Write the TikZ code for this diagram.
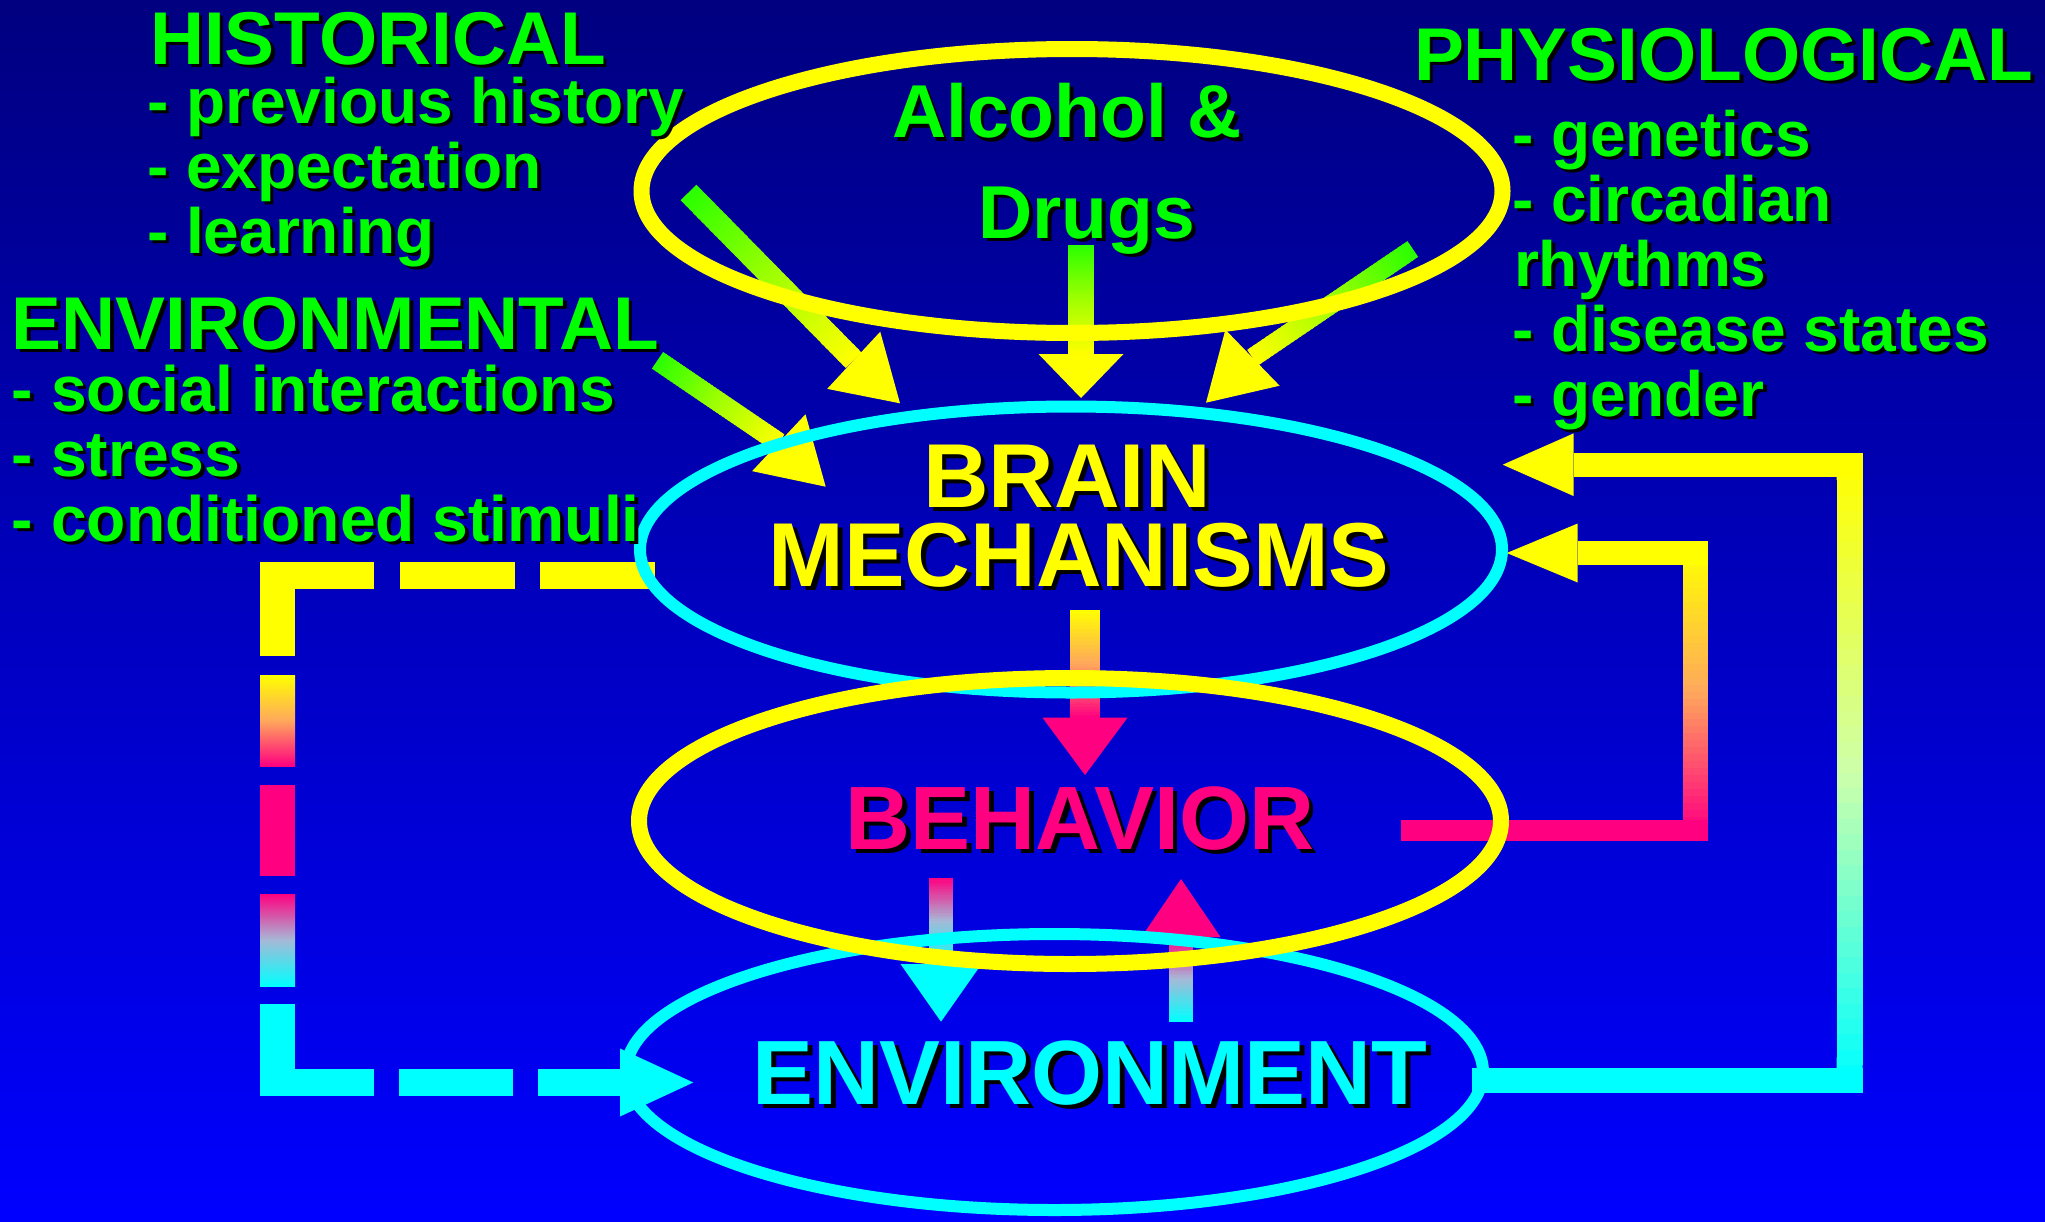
\documentclass[tikz,border=0pt]{standalone}
\usepackage{fontspec}
\setmainfont{Liberation Sans}
\usetikzlibrary{calc,shapes.geometric}
\definecolor{bgtop}{RGB}{0,0,128}
\definecolor{bgbot}{RGB}{0,0,255}
\definecolor{ylw}{RGB}{255,255,0}
\definecolor{cyn}{RGB}{0,255,255}
\definecolor{pnk}{RGB}{255,0,128}
\definecolor{grn}{RGB}{0,255,0}
\definecolor{agrn}{RGB}{40,255,0}
\definecolor{ymid}{RGB}{160,255,0}
\definecolor{orng}{RGB}{255,168,92}
\definecolor{lav}{RGB}{165,185,215}
\definecolor{pale}{RGB}{205,255,170}
\tikzset{every node/.style={inner sep=0pt,outer sep=0pt},
  ring/.style={ellipse,draw=#1,inner sep=0pt}}
% gradient shaft: from, to, width, colour start, colour mid, colour end
\newcommand\gshaft[6]{%
  \foreach \k in {0,...,39}{%
    \pgfmathsetmacro\ta{\k/40}%
    \pgfmathsetmacro\tb{min((\k+1.5)/40,1)}%
    \pgfmathsetmacro\ff{(\k+0.5)/40}%
    \ifdim\ff pt<0.5pt
      \pgfmathsetmacro\pc{100-200*\ff}%
      \draw[line width=#3,color=#4!\pc!#5] ($(#1)!\ta!(#2)$) -- ($(#1)!\tb!(#2)$);%
    \else
      \pgfmathsetmacro\pc{200-200*\ff}%
      \draw[line width=#3,color=#5!\pc!#6] ($(#1)!\ta!(#2)$) -- ($(#1)!\tb!(#2)$);%
    \fi
  }%
}
% arrow head: base centre, tip, half width, colour
\newcommand\dhead[4]{%
  \fill[#4] ($(#1)!#3!90:(#2)$) -- ($(#1)!#3!-90:(#2)$) -- (#2) -- cycle;}
% shadowed text: name, x, y, anchor, size, colour, shadow offset, text
\newcommand\stxt[8]{%
  \node[font=\fontsize{#5}{#5}\selectfont\bfseries,text=#6,anchor=#4] (#1) at (#2,#3)
    {\rlap{\kern#7pt\raisebox{-#7pt}{\color{black}#8}}#8};%
}
\begin{document}
\begin{tikzpicture}[x=1pt,y=-1pt]
\useasboundingbox (0,0) rectangle (2045,1221);
\shade[top color=bgtop,bottom color=bgbot] (0,0) rectangle (2045,1221);

% ---------- arrows into BRAIN MECHANISMS ----------
\coordinate (a1t) at (688.5,192.5);
\coordinate (a1b) at (853.7,360.3);
\coordinate (a1p) at (900,403.3);
\coordinate (a2t) at (1081,245);
\coordinate (a2b) at (1081,354);
\coordinate (a2p) at (1081,398);
\coordinate (a3t) at (1412.8,249);
\coordinate (a3b) at (1252.5,357.7);
\coordinate (a3p) at (1206,402.7);
\coordinate (a4t) at (657.5,360.3);
\coordinate (a4b) at (778.8,442.7);
\coordinate (a4p) at (825.7,486.7);
\gshaft{a1t}{a1b}{22pt}{agrn}{ymid}{ylw}
\dhead{a1b}{a1p}{39pt}{ylw}
\gshaft{a2t}{a2b}{26pt}{agrn}{ymid}{ylw}
\dhead{a2b}{a2p}{42.5pt}{ylw}
\gshaft{a3t}{a3b}{19pt}{agrn}{ymid}{ylw}
\dhead{a3b}{a3p}{39pt}{ylw}
\gshaft{a4t}{a4b}{20pt}{agrn}{ymid}{ylw}
\dhead{a4b}{a4p}{39pt}{ylw}

% ---------- brain -> behavior ----------
\coordinate (bt) at (1085,610);
\coordinate (bb) at (1085,717.7);
\coordinate (bp) at (1085,775);
\gshaft{bt}{bb}{30pt}{ylw}{orng}{pnk}
\dhead{bb}{bp}{42.5pt}{pnk}

% ---------- behavior -> environment ----------
\coordinate (ct) at (941,878.3);
\coordinate (cb) at (941,964);
\coordinate (cp) at (941,1021.7);
\gshaft{ct}{cb}{24pt}{pnk}{lav}{cyn}
\dhead{cb}{cp}{40.5pt}{cyn}

% ---------- environment -> behavior ----------
\coordinate (dt) at (1181,1021.7);
\coordinate (db) at (1181,937);
\coordinate (dp) at (1181,879);
\gshaft{dt}{db}{24pt}{cyn}{lav}{pnk}
\dhead{db}{dp}{39.5pt}{pnk}

% ---------- outer loop: environment -> brain ----------
\coordinate (o1) at (1472,1080.5);
\coordinate (o2) at (1849.7,1080.5);
\coordinate (o3) at (1849.7,464.7);
\coordinate (o4) at (1573.5,464.7);
\coordinate (o5) at (1502.7,464.7);
\gshaft{o2}{o3}{26pt}{cyn}{pale}{ylw}
\draw[cyn,line width=25pt] (o1) -- ($(o2)+(13,0)$);
\draw[ylw,line width=24pt] ($(o3)+(13,0)$) -- (o4);
\dhead{o4}{o5}{31.3pt}{ylw}

% ---------- inner loop: behavior -> brain ----------
\coordinate (i1) at (1401,830.4);
\coordinate (i2) at (1695.2,830.4);
\coordinate (i3) at (1695.2,553);
\coordinate (i4) at (1577.7,553);
\coordinate (i5) at (1506.7,553);
\gshaft{i2}{i3}{25pt}{pnk}{orng}{ylw}
\draw[pnk,line width=21pt] (i1) -- ($(i2)+(12.5,0)$);
\draw[ylw,line width=24pt] ($(i3)+(12.5,0)$) -- (i4);
\dhead{i4}{i5}{29.5pt}{ylw}

% ---------- dashed loop: brain -> environment ----------
\coordinate (lt) at (655,575.5);
\coordinate (lc1) at (277.5,575.5);
\coordinate (lc2) at (277.5,1082.5);
\coordinate (le) at (620,1082.5);
\coordinate (lp) at (693.3,1082.5);
\draw[ylw,line width=27pt,dash pattern=on 115pt off 25.5pt] (lt) -- ($(lc1)+(-17.5,0)$);
\fill[ylw] (260,562) rectangle (295,656);
\shade[top color=ylw,bottom color=pnk,middle color=orng] (260,675) rectangle (295,766);
\fill[pnk] (260,785) rectangle (295,876);
\shade[top color=pnk,bottom color=cyn,middle color=lav] (260,894) rectangle (295,986);
\fill[cyn] (260,1004) rectangle (295,1096);
\draw[cyn,line width=27pt,dash pattern=on 114pt off 25pt] ($(lc2)+(-17.5,0)$) -- (le);
\fill[cyn] ($(le)+(0,-34)$) -- ($(le)+(0,34)$) -- (lp) -- cycle;

% ---------- ellipses ----------
\node[ring=ylw,line width=16pt,minimum width=861pt,minimum height=284pt] (alc) at (1072,191) {};
\node[ring=cyn,line width=12pt,minimum width=862pt,minimum height=286pt] (brain) at (1071,549.5) {};
\node[ring=cyn,line width=12pt,minimum width=857pt,minimum height=276pt] (env) at (1054.5,1072) {};
\node[ring=ylw,line width=16pt,minimum width=862pt,minimum height=286pt] (behav) at (1070,821) {};

% ---------- texts ----------
\stxt{hist}{150}{64}{base west}{74.8pt}{grn}{3.5}{HISTORICAL}
\stxt{histA}{147}{123}{base west}{64pt}{grn}{3.5}{- previous history}
\stxt{histB}{147}{188}{base west}{64pt}{grn}{3.5}{- expectation}
\stxt{histC}{147}{253}{base west}{64pt}{grn}{3.5}{- learning}
\stxt{envh}{12}{349}{base west}{74.8pt}{grn}{3.5}{ENVIRONMENTAL}
\stxt{envA}{12}{411}{base west}{64.2pt}{grn}{3.5}{- social interactions}
\stxt{envB}{12}{476}{base west}{64.2pt}{grn}{3.5}{- stress}
\stxt{envC}{12}{541}{base west}{64.2pt}{grn}{3.5}{- conditioned stimuli}
\stxt{phys}{1414}{80}{base west}{74.8pt}{grn}{3.5}{PHYSIOLOGICAL}
\stxt{physA}{1512}{156}{base west}{64pt}{grn}{3.5}{- genetics}
\stxt{physB}{1512}{221}{base west}{64pt}{grn}{3.5}{- circadian}
\stxt{physC}{1514}{286}{base west}{64pt}{grn}{3.5}{rhythms}
\stxt{physD}{1512}{351}{base west}{64pt}{grn}{3.5}{- disease states}
\stxt{physE}{1512}{416}{base west}{64pt}{grn}{3.5}{- gender}
\stxt{alcA}{1067}{137.5}{base}{75pt}{grn}{3.5}{Alcohol \&}
\stxt{alcB}{1087}{238}{base}{75pt}{grn}{3.5}{Drugs}
\stxt{brA}{1067}{507}{base}{90.8pt}{ylw}{4.5}{BRAIN}
\stxt{brB}{1079}{586}{base}{90.8pt}{ylw}{4.5}{MECHANISMS}
\stxt{beh}{1080}{849}{base}{90pt}{pnk}{4.5}{BEHAVIOR}
\stxt{envt}{1090}{1104}{base}{91.3pt}{cyn}{4.5}{ENVIRONMENT}
\end{tikzpicture}
\end{document}
